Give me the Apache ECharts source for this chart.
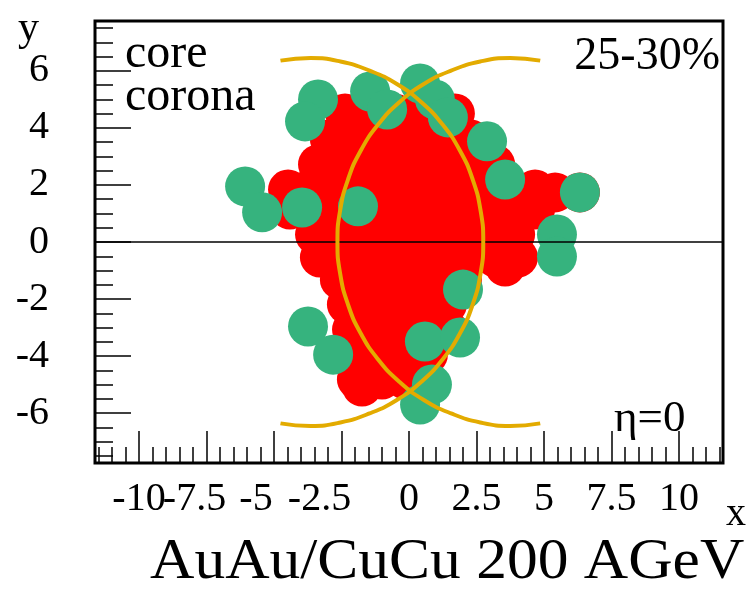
<!DOCTYPE html>
<html><head><meta charset="utf-8">
<script src="https://cdn.jsdelivr.net/npm/echarts@6/dist/echarts.min.js"></script>
<style>html,body{margin:0;padding:0;background:#fff}#c{width:753px;height:593px}</style>
</head><body><div id="c"></div>
<script>
// Axis ranges and tick values
const X_MIN = -11.63, X_MAX = 11.63, Y_MIN = -7.75, Y_MAX = 7.75;
const xMajorTicks = [-10, -7.5, -5, -2.5, 0, 2.5, 5, 7.5, 10];
const yMajorTicks = [-6, -4, -2, 0, 2, 4, 6];
const xMinorTicks = [-11.5,-11,-10.5,-9.5,-9,-8.5,-8,-7,-6.5,-6,-5.5,-4.5,-4,-3.5,-3,-2,-1.5,-1,-0.5,
  0.5,1,1.5,2,3,3.5,4,4.5,5.5,6,6.5,7,8,8.5,9,9.5,10.5,11,11.5];
const yMinorTicks = [-7.5,-7,-6.5,-5.5,-5,-4.5,-3.5,-3,-2.5,-1.5,-1,-0.5,0.5,1,1.5,2.5,3,3.5,4.5,5,5.5,6.5,7,7.5];
// x labels drawn centred, and the negative ones ROOT draws slightly left of their tick (shift in px)
const xLabelsCentred = [-10, 0, 2.5, 5, 7.5, 10];
const xLabelsShifted = [[-7.5, 12], [-5, 18], [-2.5, 22]];

// core (red) segments [x, y]
const corePoints = [
  [-2.37,4.51],[-1.44,4.51],[-0.52,4.51],[0.41,4.51],[1.33,4.51],[1.70,4.51],
  [-2.93,3.6],[-2.0,3.6],[-1.07,3.6],[-0.15,3.6],[0.78,3.6],[1.70,3.6],[2.26,3.6],
  [-3.37,2.72],[-2.37,2.72],[-1.44,2.72],[-0.52,2.72],[0.41,2.72],[1.33,2.72],[2.26,2.72],[3.19,2.72],
  [-4.48,1.84],[-3.67,1.84],[-2.74,1.84],[-1.81,1.84],[-0.89,1.84],[0.04,1.84],[0.96,1.84],[1.89,1.84],[2.81,1.84],[3.74,1.84],[4.67,1.84],
  [5.41,1.74],[6.33,1.74],
  [-4.41,1.14],[-3.48,1.14],[-2.56,1.14],[-1.63,1.14],[-0.70,1.14],[0.22,1.14],[1.15,1.14],[2.07,1.14],[3.0,1.14],[3.93,1.14],[4.67,1.14],
  [-3.48,0.26],[-2.56,0.26],[-1.63,0.26],[-0.70,0.26],[0.22,0.26],[1.15,0.26],[2.07,0.26],[3.0,0.26],[3.93,0.26],
  [-3.3,-0.54],[-2.37,-0.54],[-1.44,-0.54],[-0.52,-0.54],[0.41,-0.54],[1.33,-0.54],[2.26,-0.54],[3.19,-0.54],[4.04,-0.54],
  [3.56,-0.86],
  [-2.56,-1.32],[-1.63,-1.32],[-0.70,-1.32],[0.22,-1.32],[1.15,-1.32],[1.96,-1.32],
  [-2.30,-2.19],[-1.37,-2.19],[-0.44,-2.19],[0.48,-2.19],[1.41,-2.19],
  [-2.11,-3.07],[-1.19,-3.07],[-0.26,-3.07],[0.67,-3.07],[1.44,-3.07],
  [-2.0,-3.95],[-1.07,-3.95],[-0.15,-3.95],[0.70,-3.95],
  [-1.93,-4.82],[-1.0,-4.82],[-0.15,-4.82],
  [-1.74,-5.07]
];
// corona (green) segments
const coronaPoints = [
  [-3.37,5.0],[-3.85,4.23],[-6.07,1.95],[-5.44,1.04],[-3.96,1.21],[-1.89,1.25],
  [-1.44,5.28],[-0.81,4.65],[0.41,5.56],[0.96,5.0],[1.44,4.37],
  [2.89,3.53],[3.56,2.19],[6.33,1.74],[5.48,0.26],[5.48,-0.51],
  [2.0,-1.67],[-3.74,-2.96],[-2.81,-3.95],[0.59,-3.49],[1.89,-3.35],[0.85,-5.0],[0.41,-5.70]
];
// nucleus outlines (gold arcs)
const arcLeftNucleus = [
  [-4.76,6.36],[-3.65,6.45],[-2.54,6.33],[-1.46,6.01],[-0.45,5.54],[0.46,4.90],[1.25,4.11],[1.89,3.20],[2.36,2.19],[2.65,1.11],[2.75,0],
  [2.65,-1.11],[2.36,-2.19],[1.89,-3.20],[1.25,-4.11],[0.46,-4.90],[-0.45,-5.54],[-1.46,-6.01],[-2.54,-6.33],[-3.65,-6.45],[-4.76,-6.36]
];
const arcRightNucleus = [
  [4.86,6.36],[3.75,6.45],[2.64,6.33],[1.56,6.01],[0.55,5.54],[-0.36,4.90],[-1.15,4.11],[-1.79,3.20],[-2.26,2.19],[-2.55,1.11],[-2.65,0],
  [-2.55,-1.11],[-2.26,-2.19],[-1.79,-3.20],[-1.15,-4.11],[-0.36,-4.90],[0.55,-5.54],[1.56,-6.01],[2.64,-6.33],[3.75,-6.45],[4.86,-6.36]
];
const zeroLine = [[X_MIN,0],[X_MAX,0]];

const SERIF = 'Liberation Serif';
const chart = echarts.init(document.getElementById('c'), null, {renderer:'canvas'});
const baseX = {type:'value', min:X_MIN, max:X_MAX, position:'bottom', axisLine:{show:false, onZero:false}, splitLine:{show:false}};
const baseY = {type:'value', min:Y_MIN, max:Y_MAX, position:'left', axisLine:{show:false, onZero:false}, splitLine:{show:false}};
const gold = '#e3ab00';
const labelStyle = {color:'#000', fontFamily:SERIF, fontSize:40, margin:16, hideOverlap:false};
const xAxes = [
  Object.assign({}, baseX, {
    axisTick:{inside:true, length:32, customValues:xMajorTicks, lineStyle:{color:'#000', width:1.5}},
    axisLabel:Object.assign({customValues:xLabelsCentred}, labelStyle)
  }),
  Object.assign({}, baseX, {
    axisTick:{inside:true, length:16, customValues:xMinorTicks, lineStyle:{color:'#000', width:1.5}},
    axisLabel:{show:false}
  })
];
xLabelsShifted.forEach(([v, s]) => {
  xAxes.push(Object.assign({}, baseX, {
    axisTick:{show:false},
    axisLabel:Object.assign({customValues:[v], padding:[0, 2*s, 0, 0]}, labelStyle)
  }));
});
const txt = (o) => Object.assign({fill:'#000', fontFamily:SERIF}, o);
chart.setOption({
  animation:false,
  backgroundColor:'#fff',
  grid:{left:95, right:30, top:21, bottom:130, show:true, borderColor:'#000', borderWidth:3, backgroundColor:'transparent'},
  xAxis:xAxes,
  yAxis:[
    Object.assign({}, baseY, {
      axisTick:{inside:true, length:36, customValues:yMajorTicks, lineStyle:{color:'#000', width:1.5}},
      axisLabel:{customValues:yMajorTicks, color:'#000', fontFamily:SERIF, fontSize:40, margin:46}
    }),
    Object.assign({}, baseY, {
      axisTick:{inside:true, length:18, customValues:yMinorTicks, lineStyle:{color:'#000', width:1.5}},
      axisLabel:{show:false}
    })
  ],
  series:[
    {type:'line', data:zeroLine, symbol:'none', lineStyle:{color:'#000', width:1.5}, silent:true},
    {name:'core', type:'scatter', data:corePoints, symbol:'circle', symbolSize:40, itemStyle:{color:'#ff0000', opacity:1}},
    {name:'corona', type:'scatter', data:coronaPoints, symbol:'circle', symbolSize:40, itemStyle:{color:'#36b37e', opacity:1}},
    {type:'line', data:arcLeftNucleus, symbol:'none', smooth:true, lineStyle:{color:gold, width:4}},
    {type:'line', data:arcRightNucleus, symbol:'none', smooth:true, lineStyle:{color:gold, width:4}}
  ],
  graphic:[
    {type:'text', left:18, top:8, style:txt({text:'y', fontSize:42})},
    {type:'text', left:726, top:494, style:txt({text:'x', fontSize:40})},
    {type:'text', left:125, top:30, style:txt({text:'core', fontSize:48})},
    {type:'text', left:125, top:73, style:txt({text:'corona', fontSize:48})},
    {type:'text', right:33, top:34, style:txt({text:'25-30%', fontSize:46})},
    {type:'text', left:614, top:397, style:txt({text:'η=0', fontSize:45})},
    {type:'text', left:150, top:534, scaleX:1.06, style:txt({text:'AuAu/CuCu 200 AGeV', fontSize:58})}
  ]
});
</script></body></html>
